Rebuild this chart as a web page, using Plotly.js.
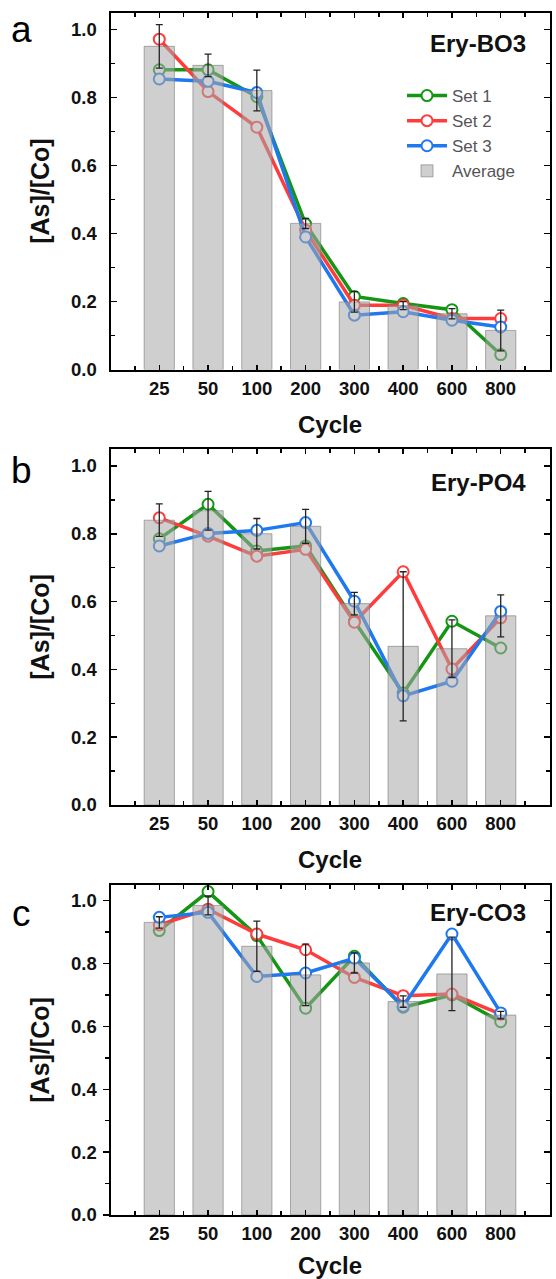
<!DOCTYPE html>
<html><head><meta charset="utf-8">
<script src="https://cdn.plot.ly/plotly-3.0.1.min.js"></script>
<style>html,body{margin:0;padding:0;background:#fff}#chart{width:556px;height:1279px}</style>
</head><body><div id="chart"></div><script>
// ---------- data ----------
const cycles = ['25','50','100','200','300','400','600','800'];
const seriesNames = ['Set 1','Set 2','Set 3','Average'];
const panelLetters = ['a','b','c'];
const panelLabels = ['Ery-BO3','Ery-PO4','Ery-CO3'];

const a_set1 = [0.882, 0.882, 0.803, 0.428, 0.215, 0.194, 0.176, 0.044];
const a_set2 = [0.972, 0.818, 0.713, 0.410, 0.189, 0.189, 0.150, 0.150];
const a_set3 = [0.855, 0.848, 0.815, 0.390, 0.160, 0.170, 0.145, 0.125];
const a_avg  = [0.951, 0.895, 0.821, 0.430, 0.199, 0.188, 0.164, 0.115];
const a_err  = [0.064, 0.033, 0.060, 0.015, 0.030, 0.012, 0.015, 0.060];

const b_set1 = [0.785, 0.887, 0.749, 0.764, 0.542, 0.330, 0.542, 0.463];
const b_set2 = [0.847, 0.793, 0.734, 0.754, 0.539, 0.688, 0.401, 0.552];
const b_set3 = [0.764, 0.801, 0.810, 0.833, 0.601, 0.322, 0.365, 0.571];
const b_avg  = [0.840, 0.868, 0.800, 0.822, 0.594, 0.468, 0.461, 0.558];
const b_err  = [0.048, 0.057, 0.045, 0.050, 0.033, 0.220, 0.085, 0.062];

const c_set1 = [0.905, 1.029, 0.889, 0.658, 0.823, 0.661, 0.700, 0.615];
const c_set2 = [0.923, 0.973, 0.894, 0.844, 0.756, 0.698, 0.703, 0.639];
const c_set3 = [0.947, 0.963, 0.759, 0.770, 0.817, 0.664, 0.894, 0.643];
const c_avg  = [0.931, 0.985, 0.855, 0.764, 0.802, 0.679, 0.767, 0.636];
const c_err  = [0.018, 0.030, 0.080, 0.098, 0.032, 0.018, 0.117, 0.012];

// ---------- styling / layout ----------
const W = 556, H = 1279;
const FONT = 'Liberation Sans, Arial, sans-serif';
const colors = ['rgb(20,150,20)', 'rgb(255,60,60)', 'rgb(30,120,240)'];
const idx = cycles.map((c, i) => i);

const panels = [
  {sets:[a_set1,a_set2,a_set3], avg:a_avg, err:a_err, top:12.7, bottom:369.5, yticks:'inside'},
  {sets:[b_set1,b_set2,b_set3], avg:b_avg, err:b_err, top:449, bottom:805, yticks:'inside'},
  {sets:[c_set1,c_set2,c_set3], avg:c_avg, err:c_err, top:885, bottom:1215, yticks:'outside'}
];
const xDom = [110.5 / W, 549.5 / W];
const letterY = [30, 471, 913];
const labelY = [44, 482.7, 912];

const traces = [];
const layout = {
  width: W, height: H,
  margin: {l:0, r:0, t:0, b:0},
  paper_bgcolor: '#fff', plot_bgcolor: 'rgba(0,0,0,0)',
  showlegend: true,
  legend: {x: 402 / W, y: 1 - 78 / H, xanchor: 'left', yanchor: 'top',
           bgcolor: 'rgba(0,0,0,0)', font: {family: FONT, size: 17, color: '#555'},
           tracegroupgap: 0, itemwidth: 40},
  annotations: [],
  bargap: 0.38
};

panels.forEach((p, i) => {
  const n = i + 1, o = i + 4;
  const xb = n === 1 ? 'x' : 'x' + n, yb = n === 1 ? 'y' : 'y' + n;
  const xo = 'x' + o, yo = 'y' + o;
  const yDom = [1 - p.bottom / H, 1 - p.top / H];

  p.sets.forEach((s, k) => {
    traces.push({
      type: 'scatter', mode: 'lines+markers', x: idx, y: s,
      xaxis: xb, yaxis: yb, name: seriesNames[k], showlegend: i === 0,
      line: {color: colors[k], width: 3.5},
      marker: {symbol: 'circle', size: 11, color: '#fff', line: {color: colors[k], width: 2}}
    });
  });
  traces.push({
    type: 'bar', x: idx, y: p.avg, xaxis: xo, yaxis: yo, name: seriesNames[3],
    showlegend: i === 0, width: 0.62,
    marker: {color: 'rgba(168,168,168,0.55)', line: {color: 'rgba(120,120,120,0.6)', width: 1}},
    error_y: {type: 'data', array: p.err, visible: true, color: '#222', thickness: 1.3, width: 3.5}
  });

  const common = {showgrid: false, zeroline: false, showline: true, linecolor: '#000', linewidth: 2};
  layout['xaxis' + (n === 1 ? '' : n)] = Object.assign({}, common, {
    domain: xDom, anchor: yb, range: [-1, 8], tickmode: 'array', tickvals: idx, ticktext: cycles,
    ticks: 'inside', ticklen: 5, tickwidth: 1.5, tickcolor: '#000',
    minor: {tickmode: 'linear', tick0: -0.5, dtick: 1, ticks: 'inside', ticklen: 4, tickwidth: 1.5, tickcolor: '#000'},
    tickfont: {family: FONT, size: 18.5, color: '#111', weight: 'bold'}, ticklabelstandoff: 1,
    title: {text: 'Cycle', font: {family: FONT, size: 24, color: '#111', weight: 'bold'}, standoff: 18}
  });
  layout['yaxis' + (n === 1 ? '' : n)] = Object.assign({}, common, {
    domain: yDom, anchor: xb, range: [0, 1.05], tick0: 0, dtick: 0.2, tickformat: '.1f',
    ticks: p.yticks, ticklen: 6, tickwidth: 1.5, tickcolor: '#000',
    minor: {dtick: 0.1, ticks: p.yticks, ticklen: 4, tickwidth: 1.5, tickcolor: '#000'},
    tickfont: {family: FONT, size: 18.5, color: '#111', weight: 'bold'}, ticklabelstandoff: p.yticks === 'inside' ? 8 : 2,
    title: {text: '[As]/[Co]', font: {family: FONT, size: 25, color: '#111', weight: 'bold'}, standoff: 14}
  });
  layout['xaxis' + o] = Object.assign({}, common, {
    overlaying: xb, anchor: yo, side: 'top', range: [-1, 8], tickmode: 'array', tickvals: idx,
    showticklabels: false, ticks: 'inside', ticklen: 5, tickwidth: 1.5, tickcolor: '#000',
    minor: {tickmode: 'linear', tick0: -0.5, dtick: 1, ticks: 'inside', ticklen: 4, tickwidth: 1.5, tickcolor: '#000'}
  });
  layout['yaxis' + o] = Object.assign({}, common, {
    overlaying: yb, anchor: xo, side: 'right', range: [0, 1.05], tick0: 0, dtick: 0.2,
    showticklabels: false, ticks: 'inside', ticklen: 6, tickwidth: 1.5, tickcolor: '#000',
    minor: {dtick: 0.1, ticks: 'inside', ticklen: 4, tickwidth: 1.5, tickcolor: '#000'}
  });

  layout.annotations.push({
    xref: 'paper', yref: 'paper', x: 21 / W, y: 1 - letterY[i] / H, xanchor: 'center', yanchor: 'middle',
    text: panelLetters[i], showarrow: false, font: {family: FONT, size: 37, color: '#000'}
  });
  layout.annotations.push({
    xref: 'paper', yref: 'paper', x: 528 / W, y: 1 - labelY[i] / H, xanchor: 'right', yanchor: 'middle',
    text: panelLabels[i], showarrow: false, font: {family: FONT, size: 24, color: '#111', weight: 'bold'}
  });
});

Plotly.newPlot('chart', traces, layout, {staticPlot: true, displayModeBar: false});
</script></body></html>
